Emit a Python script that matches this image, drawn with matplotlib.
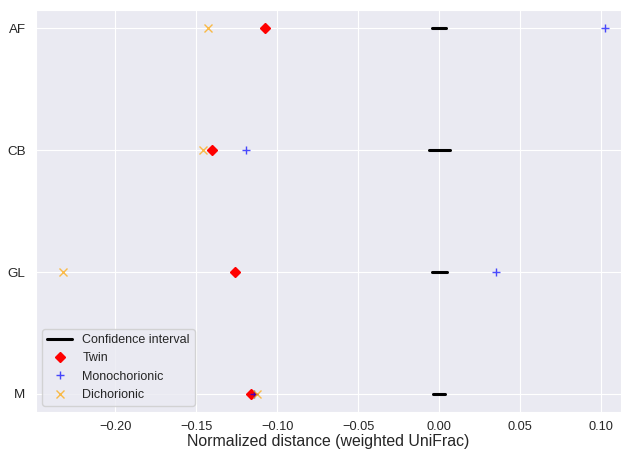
import numpy as np
import matplotlib
matplotlib.use('Agg')
import matplotlib.pyplot as plt
import seaborn as sns

# values
sites = ['AF', 'CB', 'GL', 'M']
twin = [-0.1075, -0.1400, -0.1259, -0.1160]
mono = [0.1025, -0.1194, 0.0352, -0.1145]
dich = [-0.1426, -0.1457, -0.2324, -0.1126]
ci_low = [-0.0043, -0.0065, -0.0045, -0.0037]
ci_high = [0.0045, 0.0070, 0.0052, 0.0037]

sns.set_style('darkgrid')
plt.rcParams['font.family'] = ['Liberation Sans', 'DejaVu Sans']

fig, ax = plt.subplots(figsize=(6.21, 4.51), dpi=100)
fig.subplots_adjust(left=0.058, right=1.0, bottom=0.086, top=0.978)

ypos = np.arange(len(sites))
for i in range(len(sites)):
    lab = 'Confidence interval' if i == 0 else None
    ax.plot([ci_low[i], ci_high[i]], [ypos[i], ypos[i]], 'k-', lw=2.2, label=lab)
ax.plot(twin, ypos, 'D', color='red', ms=5.5, ls='none', label='Twin')
ax.plot(mono, ypos, '+', color='blue', ms=5.5, ls='none', alpha=0.7, label='Monochorionic')
ax.plot(dich, ypos, 'x', color='orange', ms=5.5, ls='none', alpha=0.7, label='Dichorionic')

ax.set_yticks(ypos)
ax.set_yticklabels(sites)
ax.set_ylim(3.15, -0.15)
ax.set_xlim(-0.2488, 0.1123)
ax.set_xticks([-0.20, -0.15, -0.10, -0.05, 0.00, 0.05, 0.10])
ax.set_xticklabels(['\u22120.20', '\u22120.15', '\u22120.10', '\u22120.05', '0.00', '0.05', '0.10'])
ax.tick_params(axis='x', labelsize=9.2, pad=2.5)
ax.tick_params(axis='y', labelsize=9.6, pad=4)
ax.set_xlabel('Normalized distance (weighted UniFrac)', fontsize=11.4, labelpad=1)
ax.legend(loc='lower left', fontsize=9)

fig.savefig('out.png', dpi=100)
